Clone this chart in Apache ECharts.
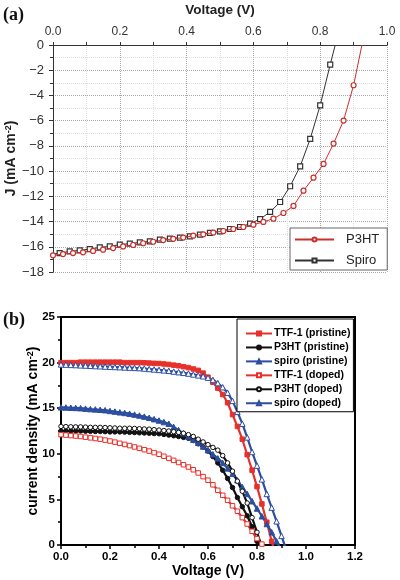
<!DOCTYPE html>
<html><head><meta charset="utf-8">
<script src="https://cdn.jsdelivr.net/npm/echarts@6/dist/echarts.min.js"></script>
<style>html,body{margin:0;padding:0;background:#fff}#c{width:400px;height:580px}</style>
</head><body><div id="c"></div>
<script>
// ---------- panel (a) data ----------
const p3htV = [0.00,0.03,0.06,0.09,0.12,0.15,0.18,0.21,0.24,0.27,0.30,0.33,0.36,0.39,0.42,0.45,0.48,0.51,0.54,0.57,0.60,0.63,0.66,0.69,0.72,0.75,0.78,0.81,0.84,0.87,0.90,0.925];
const p3htJ = [-16.68,-16.58,-16.50,-16.44,-16.33,-16.23,-16.10,-15.97,-15.86,-15.72,-15.60,-15.47,-15.37,-15.27,-15.12,-15.01,-14.87,-14.75,-14.59,-14.43,-14.25,-14.03,-13.77,-13.32,-12.76,-11.55,-10.52,-9.43,-7.82,-5.99,-3.19,0];
const spiroV = [0.00,0.02,0.05,0.08,0.11,0.14,0.17,0.20,0.23,0.26,0.29,0.32,0.35,0.38,0.41,0.44,0.47,0.50,0.53,0.56,0.59,0.62,0.65,0.68,0.71,0.74,0.77,0.80,0.83,0.845];
const spiroJ = [-16.58,-16.50,-16.37,-16.28,-16.18,-16.05,-15.97,-15.83,-15.75,-15.65,-15.57,-15.44,-15.36,-15.28,-15.17,-15.04,-14.90,-14.78,-14.59,-14.43,-14.17,-13.80,-13.24,-12.45,-11.20,-9.62,-7.45,-4.78,-1.55,0];
const seriesA = ['P3HT','Spiro'];

// ---------- panel (b) data ----------
const bV = [0.00,0.02,0.04,0.06,0.08,0.10,0.12,0.14,0.16,0.18,0.20,0.22,0.24,0.26,0.28,0.30,0.32,0.34,0.36,0.38,0.40,0.42,0.44,0.46,0.48,0.50,0.52,0.54,0.56,0.58,0.60,0.62,0.64,0.66,0.68,0.70,0.72,0.74,0.76,0.78,0.80,0.82,0.84,0.86,0.88,0.90,0.92];
const ttfPristine = [20.0,20.0,20.0,20.0,20.05,20.05,20.05,20.05,20.05,20.05,20.05,20.05,20.05,20.0,20.0,20.0,20.0,19.98,19.95,19.92,19.9,19.85,19.8,19.72,19.65,19.55,19.45,19.3,19.15,18.85,18.4,17.85,17.2,16.5,15.6,14.3,13.0,11.6,9.9,8.2,6.4,4.5,2.5,0.4,-1.5];
const p3htPristine = [12.5,12.5,12.5,12.5,12.5,12.48,12.46,12.45,12.45,12.43,12.4,12.4,12.4,12.38,12.35,12.33,12.3,12.28,12.25,12.22,12.2,12.12,12.05,11.98,11.9,11.8,11.7,11.45,11.1,10.75,10.3,9.7,9.0,8.2,7.3,6.3,5.2,4.2,3.2,2.0,0.4,-1.0];
const spiroPristine = [15.1,15.08,15.05,15.03,15.0,14.95,14.9,14.87,14.83,14.78,14.7,14.63,14.55,14.48,14.4,14.3,14.2,14.08,13.95,13.8,13.65,13.48,13.3,12.95,12.6,12.25,11.9,11.55,11.2,10.8,10.4,9.95,9.5,9.0,8.4,7.8,7.1,6.35,5.6,4.8,4.0,3.15,2.3,1.4,0.4,-0.6];
const ttfDoped = [12.1,12.05,12.0,11.95,11.9,11.82,11.75,11.68,11.6,11.5,11.4,11.28,11.15,11.03,10.9,10.75,10.6,10.45,10.3,10.13,9.95,9.73,9.5,9.28,9.05,8.8,8.55,8.25,7.9,7.5,7.1,6.6,6.0,5.45,4.9,4.3,3.7,3.0,2.3,1.5,0.7,0.1,-0.7];
const p3htDoped = [13.0,12.98,12.96,12.95,12.95,12.93,12.9,12.9,12.9,12.88,12.85,12.83,12.8,12.8,12.8,12.78,12.75,12.72,12.7,12.65,12.6,12.55,12.5,12.42,12.35,12.25,12.1,11.9,11.6,11.3,11.0,10.7,10.4,9.8,9.0,8.1,7.0,5.9,4.6,3.0,1.4,-0.2];
const spiroDoped = [19.8,19.78,19.75,19.73,19.7,19.68,19.65,19.62,19.6,19.57,19.55,19.52,19.5,19.47,19.45,19.42,19.4,19.35,19.3,19.25,19.2,19.15,19.1,19.02,18.95,18.88,18.8,18.7,18.6,18.5,18.35,18.1,17.75,17.3,16.7,15.8,14.6,13.3,11.8,10.2,8.7,7.2,5.6,4.1,2.6,1.0,-0.6];
const seriesB = ['TTF-1 (pristine)','P3HT (pristine)','spiro (pristine)','TTF-1 (doped)','P3HT (doped)','spiro (doped)'];

const RED = '#e8302a', BLK = '#111111', BLU = '#2c4ea0';

const chart = echarts.init(document.getElementById('c'), null, {renderer:'canvas'});

function pairs(xs, ys, noMarkIdx) {
  return ys.map((y,i) => noMarkIdx.indexOf(i) >= 0 ? {value:[xs[i], y], symbol:'none'} : [xs[i], y]);
}
function bSeries(name, ys, color, symbol, hollow) {
  return {
    name, type:'line', xAxisIndex:1, yAxisIndex:1, data: ys.map((y,i)=>[bV[i], y]),
    symbol, symbolSize: symbol==='triangle'?5.5:4.5, showAllSymbol:true, clip:true,
    lineStyle:{color, width:2.2},
    itemStyle:{color: hollow ? '#ffffff' : color, borderColor: color, borderWidth: 1},
    emphasis:{disabled:true}
  };
}

const FONT = 'Liberation Sans, Arial, sans-serif';

chart.setOption({
  animation:false,
  textStyle:{fontFamily:FONT},
  graphic:[
    {type:'text', left:3, top:6, style:{text:'(a)', font:'bold 18px "Liberation Serif", "Times New Roman", serif', fill:'#111'}},
    {type:'text', left:3, top:311, style:{text:'(b)', font:'bold 18px "Liberation Serif", "Times New Roman", serif', fill:'#111'}}
  ],
  grid:[
    {left:53, top:45, width:334, height:227, containLabel:false, outerBoundsMode:'none'},
    {left:61, top:317, width:294, height:228, show:true, borderColor:'#000', borderWidth:2, containLabel:false, outerBoundsMode:'none'}
  ],
  legend:[
    {
      data: seriesA, orient:'vertical', left:290, top:228,
      padding:[5,8,3,4], itemGap:8, itemWidth:39, itemHeight:5,
      backgroundColor:'#fff', borderColor:'#666', borderWidth:1, borderRadius:0,
      textStyle:{fontSize:13, color:'#222', fontFamily:FONT, padding:[0,0,0,7]}
    },
    {
      data: seriesB, orient:'vertical', left:237, top:319,
      padding:[9,3,3,8], itemGap:2.95, itemWidth:26, itemHeight:5,
      backgroundColor:'#fff', borderColor:'#000', borderWidth:1, borderRadius:0,
      textStyle:{fontSize:10.5, fontWeight:'bold', color:'#000', fontFamily:FONT, padding:[0,0,0,-3]}
    }
  ],
  xAxis:[
    {
      gridIndex:0, type:'value', position:'top', min:0, max:1, interval:0.2,
      name:'Voltage (V)', nameLocation:'middle', nameGap:28,
      nameTextStyle:{fontSize:13.5, fontWeight:'bold', color:'#222', fontFamily:FONT},
      axisLine:{show:true, onZero:false, lineStyle:{color:'#333', width:1}},
      axisTick:{show:true, inside:false, length:3, lineStyle:{color:'#333'}},
      minorTick:{show:true, splitNumber:2, length:3, lineStyle:{color:'#333'}},
      axisLabel:{fontSize:12, color:'#333', margin:7, formatter:v=>v.toFixed(1)},
      splitLine:{show:true, lineStyle:{color:'#aaa', type:'dotted', width:1}},
      minorSplitLine:{show:true, lineStyle:{color:'#ddd', type:'dotted', width:1}}
    },
    {
      gridIndex:1, type:'value', position:'bottom', min:0, max:1.2, interval:0.2,
      name:'Voltage (V)', nameLocation:'middle', nameGap:19,
      nameTextStyle:{fontSize:14, fontWeight:'bold', color:'#000', fontFamily:FONT},
      axisLine:{show:true, onZero:false, lineStyle:{color:'#000', width:2}},
      axisTick:{show:true, inside:false, length:4, lineStyle:{color:'#000', width:1.5}},
      minorTick:{show:true, splitNumber:2, length:3, lineStyle:{color:'#000', width:1.5}},
      axisLabel:{fontSize:11.5, fontWeight:'bold', color:'#000', margin:6, formatter:v=>v.toFixed(1)},
      splitLine:{show:false}
    }
  ],
  yAxis:[
    {
      gridIndex:0, type:'value', min:-18, max:0, interval:2,
      name:'J (mA cm{sup|-2})', nameLocation:'middle', nameGap:35, nameRotate:90, nameMoveOverlap:false,
      nameTextStyle:{fontSize:14, fontWeight:'bold', color:'#222', fontFamily:FONT,
        rich:{sup:{fontSize:9, fontWeight:'bold', color:'#222', verticalAlign:'top', fontFamily:FONT}}},
      axisLine:{show:true, onZero:false, lineStyle:{color:'#333', width:1}},
      axisTick:{show:true, inside:false, length:4, lineStyle:{color:'#333'}},
      minorTick:{show:true, splitNumber:2, length:3, lineStyle:{color:'#333'}},
      axisLabel:{fontSize:13, color:'#333', margin:9, formatter:v=> v<0 ? '\u2212'+Math.abs(v) : String(v)},
      splitLine:{show:true, lineStyle:{color:'#aaa', type:'dotted', width:1}},
      minorSplitLine:{show:true, lineStyle:{color:'#ddd', type:'dotted', width:1}}
    },
    {
      gridIndex:1, type:'value', min:0, max:25, interval:5,
      name:'current density (mA cm{sup|-2})', nameLocation:'middle', nameGap:21, nameRotate:90, nameMoveOverlap:false,
      nameTextStyle:{fontSize:14, fontWeight:'bold', color:'#000', fontFamily:FONT,
        rich:{sup:{fontSize:9, fontWeight:'bold', color:'#000', verticalAlign:'top', fontFamily:FONT}}},
      axisLine:{show:true, onZero:false, lineStyle:{color:'#000', width:2}},
      axisTick:{show:true, inside:false, length:4, lineStyle:{color:'#000', width:1.5}},
      minorTick:{show:true, splitNumber:2, length:3, lineStyle:{color:'#000', width:1.5}},
      axisLabel:{fontSize:11.5, fontWeight:'bold', color:'#000', margin:6},
      splitLine:{show:false}
    }
  ],
  series:[
    {
      name:'P3HT', type:'line', xAxisIndex:0, yAxisIndex:0,
      data: pairs(p3htV, p3htJ, [p3htJ.length-1]),
      symbol:'circle', symbolSize:5, showAllSymbol:true,
      lineStyle:{color:'#c9302c', width:1},
      itemStyle:{color:'#ffffff', borderColor:'#c9302c', borderWidth:1.2},
      emphasis:{disabled:true}, z:3
    },
    {
      name:'Spiro', type:'line', xAxisIndex:0, yAxisIndex:0,
      data: pairs(spiroV, spiroJ, [0, spiroJ.length-1]),
      symbol:'rect', symbolSize:5, showAllSymbol:true,
      lineStyle:{color:'#333333', width:1},
      itemStyle:{color:'#ffffff', borderColor:'#333333', borderWidth:1.2},
      emphasis:{disabled:true}, z:2
    },
    bSeries(seriesB[0], ttfPristine, RED, 'rect', false),
    bSeries(seriesB[1], p3htPristine, BLK, 'circle', false),
    bSeries(seriesB[2], spiroPristine, BLU, 'triangle', false),
    bSeries(seriesB[3], ttfDoped, RED, 'rect', true),
    bSeries(seriesB[4], p3htDoped, BLK, 'circle', true),
    bSeries(seriesB[5], spiroDoped, BLU, 'triangle', true)
  ]
});
</script>
</body></html>
